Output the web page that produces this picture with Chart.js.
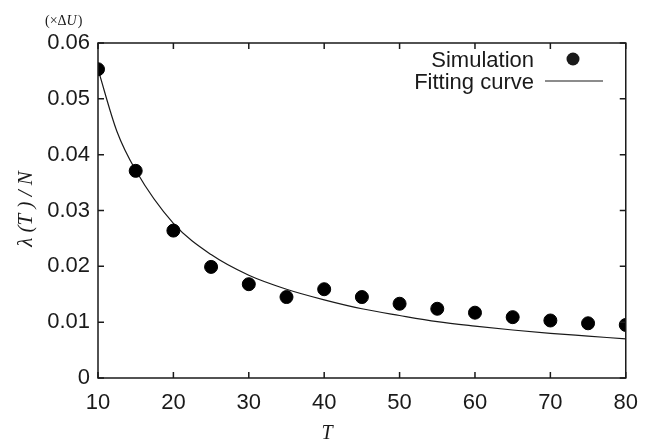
<!DOCTYPE html>
<html>
<head>
<meta charset="utf-8">
<script src="https://cdn.jsdelivr.net/npm/chart.js@4/dist/chart.umd.min.js"></script>
<style>
  html, body { margin: 0; padding: 0; background: #fff; }
  #wrap { width: 650px; height: 443px; }
</style>
</head>
<body>
<div id="wrap"><canvas id="chart" width="650" height="443"></canvas></div>
<script>
// Simulation points
const simT = [10, 15, 20, 25, 30, 35, 40, 45, 50, 55, 60, 65, 70, 75, 80];
const simVal = [0.0553, 0.0371, 0.0264, 0.0199, 0.0168, 0.0145, 0.0159, 0.0145, 0.0133, 0.0124, 0.0117, 0.0109, 0.0103, 0.0098, 0.0095];

// Fitting curve
const fitT = [10, 12.5, 15, 20, 25, 30, 35, 40, 45, 50, 55, 60, 65, 70, 75, 80];
const fitVal = [0.0553, 0.0442, 0.0372, 0.0277, 0.0221, 0.0184, 0.0159, 0.0140, 0.0124, 0.0112, 0.0101, 0.0093, 0.0086, 0.0080, 0.0075, 0.0070];

// Axis ticks
const xTicks = [10, 20, 30, 40, 50, 60, 70, 80];
const yTicks = [0, 0.01, 0.02, 0.03, 0.04, 0.05, 0.06];

const INK = "#1a1a1a";
const SANS = "'Liberation Sans', Arial, sans-serif";
const SERIF = "'Liberation Serif', 'DejaVu Serif', serif";

// Frame, inward ticks on all four sides, axis titles and legend
const decor = {
  id: "decor",
  afterDraw(chart) {
    const { ctx, chartArea: a, scales: { x, y } } = chart;
    ctx.save();
    ctx.strokeStyle = INK;
    ctx.lineWidth = 1.5;
    ctx.strokeRect(a.left, a.top, a.right - a.left, a.bottom - a.top);

    const t = 6;
    ctx.beginPath();
    xTicks.forEach(v => {
      const px = x.getPixelForValue(v);
      ctx.moveTo(px, a.bottom); ctx.lineTo(px, a.bottom - t);
      ctx.moveTo(px, a.top); ctx.lineTo(px, a.top + t);
    });
    yTicks.forEach(v => {
      const py = y.getPixelForValue(v);
      ctx.moveTo(a.left, py); ctx.lineTo(a.left + t, py);
      ctx.moveTo(a.right, py); ctx.lineTo(a.right - t, py);
    });
    ctx.stroke();

    ctx.fillStyle = INK;
    // x title
    ctx.font = "italic 20px " + SERIF;
    ctx.textAlign = "center";
    ctx.textBaseline = "middle";
    ctx.fillText("T", 327, 434);

    // y title
    ctx.save();
    ctx.translate(26, 209);
    ctx.rotate(-Math.PI / 2);
    ctx.font = "italic 21px " + SERIF;
    ctx.fillText("λ (T ) / N", 0, 0);
    ctx.restore();

    // unit note
    ctx.textAlign = "left";
    ctx.font = "14px " + SERIF;
    let ux = 45;
    ctx.fillText("(×Δ", ux, 21);
    ux += ctx.measureText("(×Δ").width;
    ctx.font = "italic 14px " + SERIF;
    ctx.fillText("U", ux, 21);
    ux += ctx.measureText("U").width + 1;
    ctx.font = "14px " + SERIF;
    ctx.fillText(")", ux, 21);

    // legend
    ctx.font = "22px " + SANS;
    ctx.textAlign = "right";
    ctx.fillText("Simulation", 534, 61);
    ctx.fillText("Fitting curve", 534, 83);
    ctx.beginPath();
    ctx.arc(573, 59, 6.5, 0, Math.PI * 2);
    ctx.fill();
    ctx.lineWidth = 1.2;
    ctx.beginPath();
    ctx.moveTo(545, 81);
    ctx.lineTo(603, 81);
    ctx.stroke();
    ctx.restore();
  }
};

new Chart(document.getElementById("chart").getContext("2d"), {
  type: "scatter",
  data: {
    datasets: [
      {
        label: "Fitting curve",
        data: fitT.map((t, i) => ({ x: t, y: fitVal[i] })),
        showLine: true,
        borderColor: INK,
        borderWidth: 1.2,
        pointRadius: 0,
        cubicInterpolationMode: "monotone",
        order: 2
      },
      {
        label: "Simulation",
        data: simT.map((t, i) => ({ x: t, y: simVal[i] })),
        backgroundColor: "#000",
        borderColor: "#000",
        pointRadius: 6.5,
        order: 1
      }
    ]
  },
  options: {
    responsive: false,
    animation: false,
    layout: { padding: { top: 43, right: 20, left: 0, bottom: 0 } },
    plugins: { legend: { display: false }, tooltip: { enabled: false } },
    scales: {
      x: {
        type: "linear",
        min: 10, max: 80,
        afterBuildTicks: s => { s.ticks = xTicks.map(v => ({ value: v })); },
        afterFit: s => { s.height = 65; },
        grid: { display: false, drawTicks: false },
        border: { display: false },
        ticks: { color: INK, font: { family: SANS, size: 22 }, padding: 12 }
      },
      y: {
        min: 0, max: 0.06,
        afterBuildTicks: s => { s.ticks = yTicks.map(v => ({ value: v })); },
        afterFit: s => { s.width = 98; },
        grid: { display: false, drawTicks: false },
        border: { display: false },
        ticks: {
          color: INK, font: { family: SANS, size: 22 }, padding: 8,
          callback: v => v === 0 ? "0" : v.toFixed(2)
        }
      }
    }
  },
  plugins: [decor]
});
</script>
</body>
</html>
